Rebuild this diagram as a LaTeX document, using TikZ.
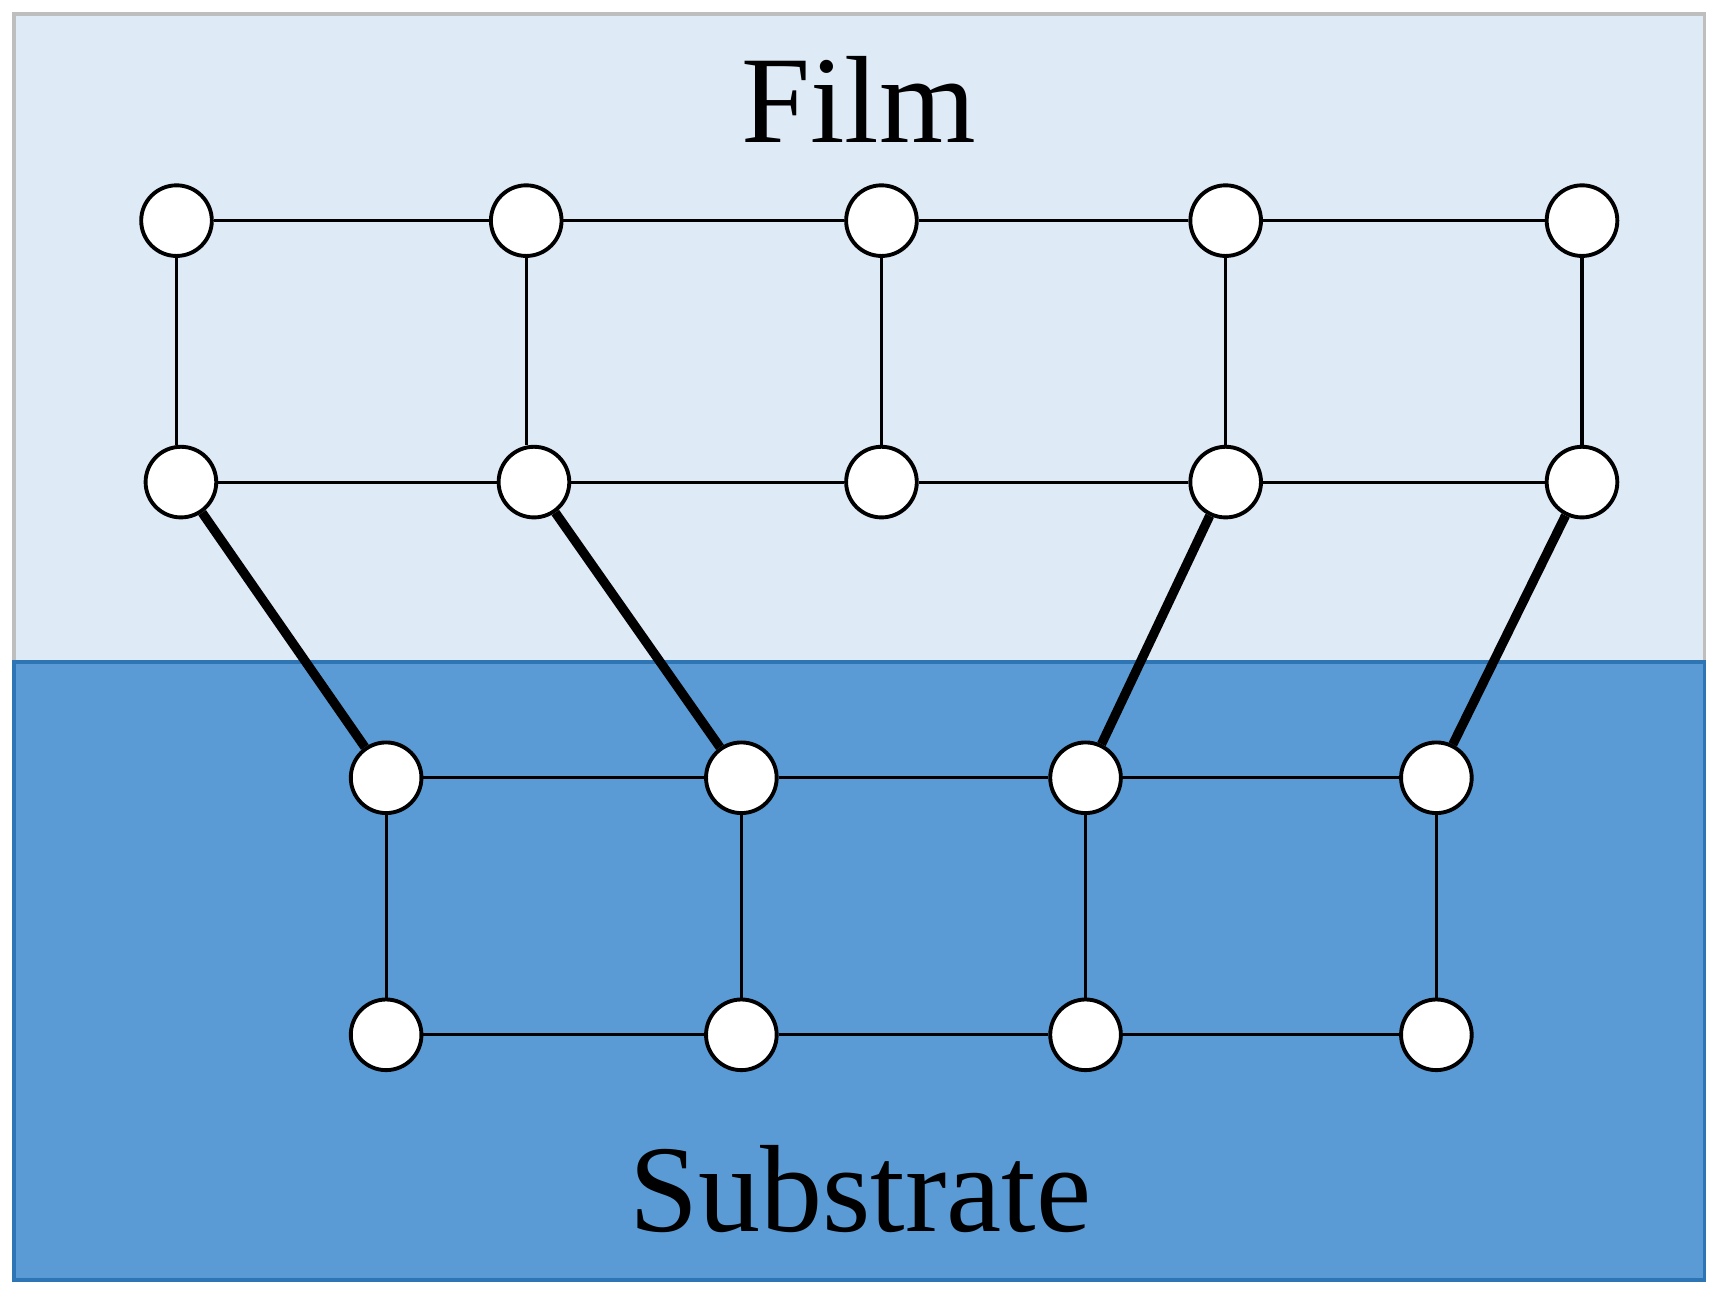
\documentclass[tikz,border=0pt]{standalone}
\usepackage{fontspec}
\setmainfont{Liberation Serif}
\begin{document}
\begin{tikzpicture}[x=0.01cm,y=-0.01cm,
  atom/.style={circle,draw=black,fill=white,line width=1pt,minimum size=0.64cm,inner sep=0pt},
  bond/.style={line width=0.8pt},
  link/.style={line width=2.4pt}]
\useasboundingbox (0,0) rectangle (1560,1176);
\fill[fill={rgb,255:red,222;green,234;blue,246},draw={rgb,255:red,190;green,190;blue,190},line width=1pt] (13,13) rectangle (1545,600);
\fill[fill={rgb,255:red,91;green,155;blue,213},draw={rgb,255:red,46;green,117;blue,182},line width=1pt] (13,600) rectangle (1545,1160);
\node[font=\fontsize{32}{38}\selectfont] at (778,90) {Film};
\node[font=\fontsize{32}{38}\selectfont] at (780,1078) {Substrate};
\foreach \x [count=\i] in {160,477,799,1111,1434} \node[atom] (a\i) at (\x,200) {};
\foreach \x [count=\i] in {164,484,799,1111,1434} \node[atom] (b\i) at (\x,437) {};
\foreach \x [count=\i] in {350,672,984,1302} \node[atom] (c\i) at (\x,705) {};
\foreach \x [count=\i] in {350,672,984,1302} \node[atom] (d\i) at (\x,938) {};
\foreach \i/\j in {1/2,2/3,3/4,4/5} {\draw[bond] (a\i) -- (a\j); \draw[bond] (b\i) -- (b\j);}
\foreach \i in {1,...,5} \draw[bond] (a\i.south) -- (a\i.south |- b\i.north);
\foreach \i/\j in {1/2,2/3,3/4} {\draw[bond] (c\i) -- (c\j); \draw[bond] (d\i) -- (d\j);}
\foreach \i in {1,...,4} \draw[bond] (c\i) -- (d\i);
\draw[link] (b1) -- (c1);
\draw[link] (b2) -- (c2);
\draw[link] (b4) -- (c3);
\draw[link] (b5) -- (c4);
\end{tikzpicture}
\end{document}
